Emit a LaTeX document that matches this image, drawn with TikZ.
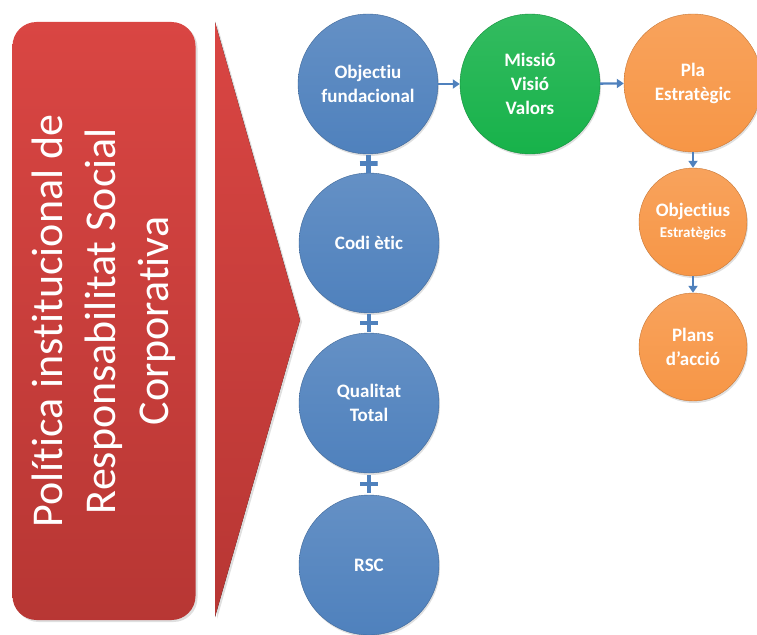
\documentclass[tikz,border=0pt]{standalone}
\usepackage{fontspec}
\setmainfont{Carlito}[Ligatures=NoCommon]
\usetikzlibrary{arrows.meta,shadows,calc}

\definecolor{rscblue}{HTML}{4F81BD}
\definecolor{rscgreen}{HTML}{17B24A}
\definecolor{rscorange}{HTML}{F79646}
\definecolor{rscred}{HTML}{D8403D}

\tikzset{
    bubble/.style={circle, minimum size=140pt, inner sep=0pt, text=white, align=center,
        font=\bfseries\fontsize{19}{24}\selectfont,
        drop shadow={opacity=0.25, shadow xshift=1pt, shadow yshift=-2pt}},
    bluebubble/.style={bubble, top color=rscblue!88!white, bottom color=rscblue, draw=rscblue!80!black, thin},
    greenbubble/.style={bubble, top color=rscgreen!88!white, bottom color=rscgreen, draw=rscgreen!80!black, thin},
    orangebubble/.style={bubble, top color=rscorange!88!white, bottom color=rscorange, draw=rscorange!80!black, thin},
    plusmark/.style={minimum size=18pt, inner sep=0pt,
        path picture={\draw[rscblue, line width=4.5pt]
            (path picture bounding box.north) -- (path picture bounding box.south)
            (path picture bounding box.west) -- (path picture bounding box.east);}}
}

\begin{document}
\begin{tikzpicture}[x=1pt, y=-1pt]
            \clip (0,0) rectangle (757,634);

            % left banner and big arrow
            \node (banner) [rotate=90, rounded corners=24pt, minimum width=598pt, minimum height=183pt,
                top color=rscred!97!white, bottom color=rscred!85!black, text=white, align=center,
                font=\fontsize{44}{53}\selectfont,
                drop shadow={opacity=0.25, shadow xshift=2pt, shadow yshift=-2pt}] at (104, 321)
                {Política institucional de\\Responsabilitat Social\\Corporativa};
            \fill [top color=rscred!97!white, bottom color=rscred!85!black,
                drop shadow={opacity=0.25, shadow xshift=2pt, shadow yshift=-2pt}]
                (215, 22) -- (300, 320) -- (215, 617) -- cycle;

            \begin{scope}[every node/.style={bluebubble}]
                \node (obj) at (368, 84) {Objectiu\\fundacional};
                \node (codi) at (369, 243) {Codi ètic};
                \node (qual) at (369, 403) {Qualitat\\Total};
                \node (rsc) at (369, 565) {RSC};
            \end{scope}
            \node (miss) [greenbubble] at (530, 84) {Missió\\Visió\\Valors};
            \node (pla) [orangebubble, minimum size=138pt] at (693, 83) {Pla\\Estratègic};
            \node (objest) [orangebubble, minimum size=108pt] at (693, 222)
                {Objectius\\[-3pt]{\fontsize{15}{17}\selectfont Estratègics}};
            \node (plans) [orangebubble, minimum size=108pt] at (693, 347) {Plans\\d’acció};

            % pluses between the blue ones
            \node (plusA) [plusmark] at ($(obj.south)!0.5!(codi.north)$) {};
            \node (plusB) [plusmark] at ($(codi.south)!0.5!(qual.north)$) {};
            \node (plusC) [plusmark] at ($(qual.south)!0.5!(rsc.north)$) {};

            \begin{scope}[every edge/.style={draw=rscblue, line width=2.4pt}]
                \path [-{Triangle[length=7pt, width=9pt]}] (obj) edge (miss);
                \path [-{Triangle[length=7pt, width=9pt]}] (miss) edge (pla);
                \path [-{Triangle[length=7pt, width=9pt]}] (pla) edge (objest);
                \path [-{Triangle[length=7pt, width=9pt]}] (objest) edge (plans);
            \end{scope}
        \end{tikzpicture}
\end{document}
